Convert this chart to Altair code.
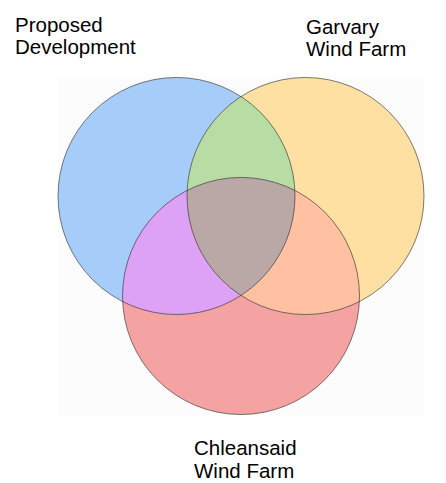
import altair as alt
import numpy as np
import pandas as pd

# ---- data -------------------------------------------------------------
set_names = ["Proposed Development", "Garvary Wind Farm", "Chleansaid Wind Farm"]
set_cx = [176.5, 305.5, 241.0]
set_cy = [196.0, 196.0, 296.0]
set_r = [118.5, 118.5, 118.5]
set_colors = ["#A6CDF9", "#FEE0A3", "#F5A2A2"]

overlap_names = ["Proposed & Garvary", "Proposed & Chleansaid", "Garvary & Chleansaid"]
overlap_members = [(0, 1), (0, 2), (1, 2)]
overlap_colors = ["#B7DDA4", "#DDA1F5", "#FFC1A2"]

triple_name = "All three"
triple_members = (0, 1, 2)
triple_color = "#BAA8A7"

label_lines = [["Proposed", "Development"], ["Garvary", "Wind Farm"], ["Chleansaid", "Wind Farm"]]

# ---- layout -----------------------------------------------------------
label_x = [15.0, 306.0, 194.0]
label_y = [31.5, 33.5, 455.0]
line_gap = 22.5
X0, X1, Y0, Y1 = 8, 438, 8, 483

xs_scale = alt.Scale(domain=[X0, X1], nice=False, zero=False)
ys_scale = alt.Scale(domain=[Y0, Y1], nice=False, zero=False, reverse=True)

circles = pd.DataFrame({
    "set": set_names, "x": set_cx, "y": set_cy,
    "size": [(2 * r) ** 2 for r in set_r], "color": set_colors,
})


def region_rows(name, members):
    lo = max(set_cx[i] - set_r[i] for i in members)
    hi = min(set_cx[i] + set_r[i] for i in members)
    parts = [np.linspace(lo, hi, 900)]
    for i in members:
        parts.append(set_cx[i] + set_r[i] * np.cos(np.linspace(0, np.pi, 1200)))
    xs = np.unique(np.concatenate(parts))
    xs = xs[(xs >= lo) & (xs <= hi)]
    out = []
    for x in xs:
        tops, bots = [], []
        for i in members:
            h = np.sqrt(max(set_r[i] ** 2 - (x - set_cx[i]) ** 2, 0.0))
            tops.append(set_cy[i] - h)
            bots.append(set_cy[i] + h)
        t, b = max(tops), min(bots)
        if t <= b:
            out.append({"region": name, "x": float(x), "y": float(t), "y2": float(b)})
    return out


pair_rows = []
for n, m in zip(overlap_names, overlap_members):
    pair_rows += region_rows(n, m)
pairs = pd.DataFrame(pair_rows)
triple = pd.DataFrame(region_rows(triple_name, triple_members))

bg = pd.DataFrame({
    "x": [min(c - r for c, r in zip(set_cx, set_r))],
    "x2": [max(c + r for c, r in zip(set_cx, set_r))],
    "y": [min(c - r for c, r in zip(set_cy, set_r))],
    "y2": [max(c + r for c, r in zip(set_cy, set_r))],
})

lab_rows = []
for lines, lx, ly in zip(label_lines, label_x, label_y):
    for k, t in enumerate(lines):
        lab_rows.append({"text": t, "x": lx, "y": ly + k * line_gap})
labels = pd.DataFrame(lab_rows)

# ---- layers -----------------------------------------------------------
bg_layer = alt.Chart(bg).mark_rect(fill="#FCFCFC").encode(
    x=alt.X("x:Q", scale=xs_scale, axis=None), x2="x2:Q",
    y=alt.Y("y:Q", scale=ys_scale, axis=None), y2="y2:Q",
)

fill_layer = alt.Chart(circles).mark_circle(opacity=1, strokeWidth=0).encode(
    x=alt.X("x:Q", scale=xs_scale, axis=None),
    y=alt.Y("y:Q", scale=ys_scale, axis=None),
    size=alt.Size("size:Q", scale=None, legend=None),
    color=alt.Color("color:N", scale=None, legend=None),
)

pair_layer = alt.Chart(pairs).mark_area(opacity=1, interpolate="linear").encode(
    x=alt.X("x:Q", scale=xs_scale, axis=None),
    y=alt.Y("y:Q", scale=ys_scale, axis=None), y2="y2:Q",
    color=alt.Color("region:N", scale=alt.Scale(domain=overlap_names, range=overlap_colors), legend=None),
)

triple_layer = alt.Chart(triple).mark_area(opacity=1, color=triple_color).encode(
    x=alt.X("x:Q", scale=xs_scale, axis=None),
    y=alt.Y("y:Q", scale=ys_scale, axis=None), y2="y2:Q",
)

outline_layer = alt.Chart(circles).mark_point(
    shape="circle", filled=False, stroke="#333333", strokeWidth=0.8, opacity=1, strokeOpacity=0.8
).encode(
    x=alt.X("x:Q", scale=xs_scale, axis=None),
    y=alt.Y("y:Q", scale=ys_scale, axis=None),
    size=alt.Size("size:Q", scale=None, legend=None),
)

text_layer = alt.Chart(labels).mark_text(
    align="left", baseline="alphabetic", font="Liberation Sans", fontSize=20.5, color="#000000"
).encode(
    x=alt.X("x:Q", scale=xs_scale, axis=None),
    y=alt.Y("y:Q", scale=ys_scale, axis=None),
    text="text:N",
)

chart = alt.layer(
    bg_layer, fill_layer, pair_layer, triple_layer, outline_layer, text_layer
).resolve_scale(color="independent").properties(
    width=X1 - X0, height=Y1 - Y0, padding=0,
    autosize=alt.AutoSizeParams(type="none"),
).configure_view(stroke=None)

chart.save("out.html", embed_options={"renderer": "svg", "actions": False})
